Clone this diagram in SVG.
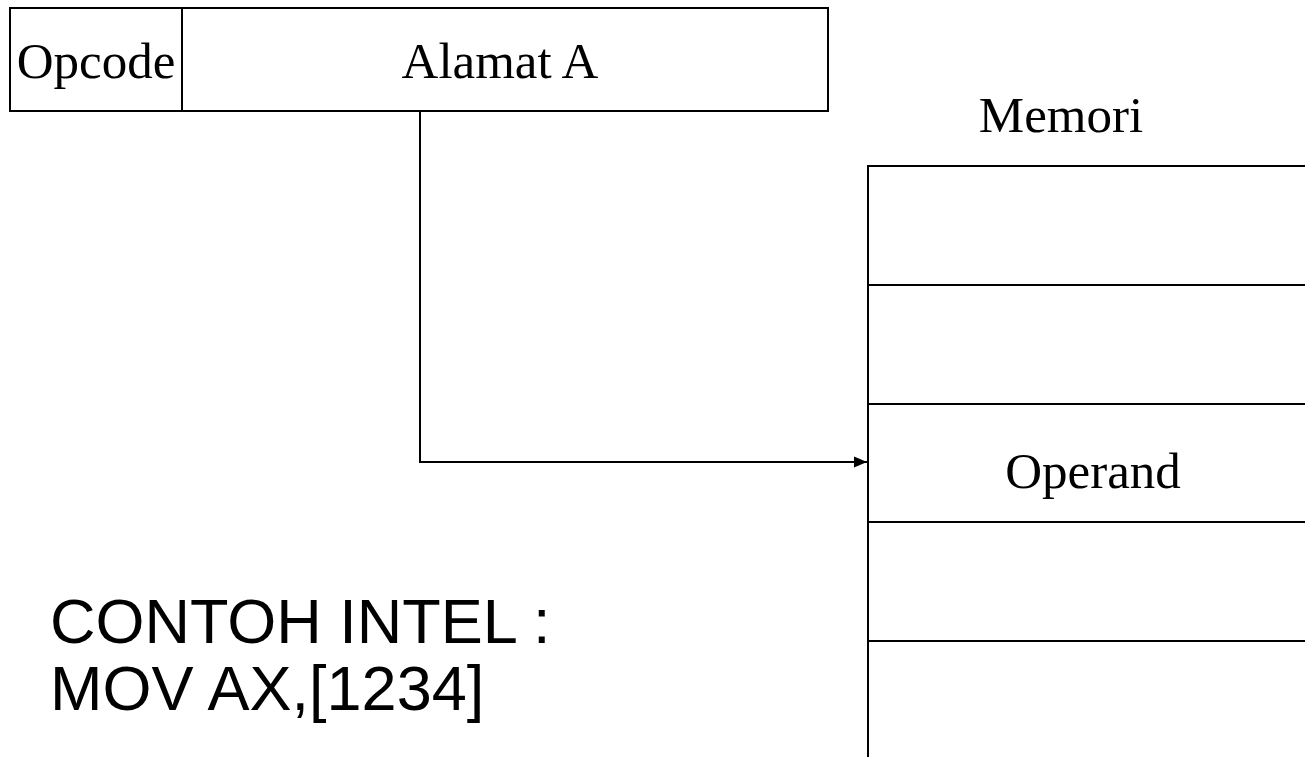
<svg xmlns="http://www.w3.org/2000/svg" width="1305" height="757" viewBox="0 0 1305 757">
<style>
.ln{stroke:#000;stroke-width:2;fill:none}
.serif{font-family:"Liberation Serif","Times New Roman",serif;font-size:51px;fill:#000}
.sans{font-family:"Liberation Sans",Arial,sans-serif;font-size:63px;fill:#000}
</style>
<defs>
<marker id="arr" markerWidth="13" markerHeight="12" refX="13" refY="6" orient="auto" markerUnits="userSpaceOnUse">
<path d="M0,0.5 L13,6 L0,11.5 Z" fill="#000"/>
</marker>
</defs>
<rect width="1305" height="757" fill="#fff"/>
<g id="instruction">
<rect class="ln" x="10" y="8" width="818" height="103"/>
<line class="ln" x1="182" y1="8" x2="182" y2="111"/>
<text class="serif" x="96" y="78" text-anchor="middle">Opcode</text>
<text class="serif" x="500" y="78" text-anchor="middle">Alamat A</text>
</g>
<g id="memori">
<text class="serif" x="1061" y="132" text-anchor="middle">Memori</text>
<path class="ln" d="M868,757 V166 H1305 M868,285 H1305 M868,404 H1305 M868,522 H1305 M868,641 H1305"/>
<text class="serif" x="1093" y="488" text-anchor="middle">Operand</text>
</g>
<g id="connectors">
<path class="ln" d="M420,111 V462 H867" marker-end="url(#arr)"/>
</g>
<g id="contoh">
<text class="sans" x="50" y="643">CONTOH INTEL :</text>
<text class="sans" x="50" y="710">MOV AX,[1234]</text>
</g>
</svg>
